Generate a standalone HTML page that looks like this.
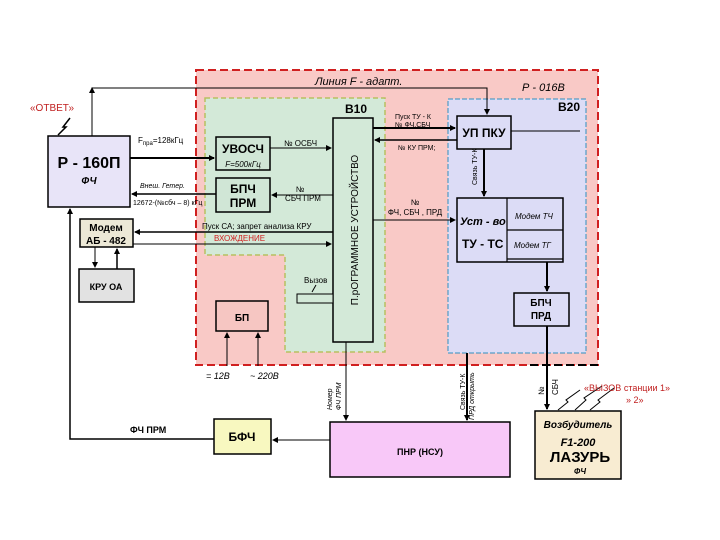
<!DOCTYPE html>
<html><head><meta charset="utf-8"><style>
html,body{margin:0;padding:0;background:#fff;}
svg{display:block;font-family:"Liberation Sans",sans-serif;}
</style></head><body>
<svg width="720" height="540" viewBox="0 0 720 540" xmlns="http://www.w3.org/2000/svg">
<defs>
<marker id="a" markerWidth="6" markerHeight="6" refX="5" refY="3" orient="auto" markerUnits="userSpaceOnUse"><path d="M0,0 L6,3 L0,6 z" fill="#000"/></marker>
</defs>
<!-- regions -->
<rect x="196" y="70" width="402" height="295" fill="#f9c9c6" stroke="#d02020" stroke-width="2" stroke-dasharray="8,4"/>
<path d="M205,98 H385 V352 H285 V255 H205 Z" fill="#d3e9d8" stroke="#b8c060" stroke-width="1.5" stroke-dasharray="5,3"/>
<rect x="448" y="99" width="138" height="254" fill="#dcdcf6" stroke="#3090c0" stroke-width="1" stroke-dasharray="5,2"/>
<path d="M530,365 H598" stroke="#000" stroke-width="2" stroke-dasharray="8,4"/>
<text x="315" y="85" font-size="11" font-style="italic">Линия F - адапт.</text>
<text x="522" y="91" font-size="11" font-style="italic">Р - 016В</text>
<text x="345" y="113" font-size="12" font-weight="bold">В10</text>
<text x="558" y="111" font-size="12" font-weight="bold">В20</text>
<!-- top line -->
<path d="M92,136 V88 H487 V114" fill="none" stroke="#000" stroke-width="1" marker-end="url(#a)"/>
<path d="M92,96 L92,88" stroke="#000" marker-end="url(#a)"/>
<!-- R-160P -->
<rect x="48" y="136" width="82" height="71" fill="#e8e4f8" stroke="#000" stroke-width="1.5"/>
<text x="89" y="168" font-size="16" font-weight="bold" text-anchor="middle">Р - 160П</text>
<text x="89" y="184" font-size="10" font-weight="bold" font-style="italic" text-anchor="middle">ФЧ</text>
<text x="30" y="111" font-size="10" fill="#c02020">«ОТВЕТ»</text>
<path d="M70,118 L63,127 L66,127 L58,135" fill="none" stroke="#000" stroke-width="1.5"/>
<!-- UVOSCH -->
<rect x="216" y="137" width="54" height="33" fill="#d0e6d6" stroke="#000" stroke-width="1.5"/>
<text x="243" y="153" font-size="12" font-weight="bold" text-anchor="middle">УВОСЧ</text>
<text x="243" y="167" font-size="8" font-style="italic" text-anchor="middle">F=500кГц</text>
<path d="M130,158 H214" stroke="#000" stroke-width="2" marker-end="url(#a)"/>
<text x="138" y="143" font-size="8">F<tspan font-size="6" dy="2">пра</tspan><tspan dy="-2">=128кГц</tspan></text>
<path d="M270,148 H331" stroke="#000" marker-end="url(#a)"/>
<text x="284" y="146" font-size="8">№ ОСБЧ</text>
<!-- BPCH PRM -->
<rect x="216" y="178" width="54" height="34" fill="#d0e6d6" stroke="#000" stroke-width="1.5"/>
<text x="243" y="193" font-size="12" font-weight="bold" text-anchor="middle">БПЧ</text>
<text x="243" y="207" font-size="12" font-weight="bold" text-anchor="middle">ПРМ</text>
<path d="M333,195 H272" stroke="#000" marker-end="url(#a)"/>
<text x="300" y="192" font-size="8" text-anchor="middle">№</text>
<text x="303" y="201" font-size="8" text-anchor="middle">СБЧ ПРМ</text>
<path d="M216,194 H132" stroke="#000" stroke-width="1.5" marker-end="url(#a)"/>
<text x="140" y="188" font-size="7" font-style="italic">Внеш. Гетер.</text>
<text x="133" y="205" font-size="7">12672-(№сбч – 8) кГц</text>
<!-- modem -->
<rect x="80" y="219" width="53" height="28" fill="#ece8d6" stroke="#000" stroke-width="1.5"/>
<text x="106" y="231" font-size="10" font-weight="bold" text-anchor="middle">Модем</text>
<text x="106" y="244" font-size="10" font-weight="bold" text-anchor="middle">АБ - 482</text>
<path d="M333,232 H135" stroke="#000" stroke-width="1.5" marker-end="url(#a)"/>
<text x="202" y="229" font-size="8">Пуск СА; запрет анализа КРУ</text>
<text x="214" y="241" font-size="8" fill="#d02020">ВХОЖДЕНИЕ</text>
<path d="M133,244 H331" stroke="#000" marker-end="url(#a)"/>
<!-- KRU -->
<rect x="79" y="269" width="55" height="33" fill="#e2e2e2" stroke="#000" stroke-width="1.5"/>
<text x="106" y="290" font-size="9" font-weight="bold" text-anchor="middle">КРУ ОА</text>
<path d="M95,247 V267" stroke="#000" marker-end="url(#a)"/>
<path d="M117,269 V249" stroke="#000" stroke-width="1.5" marker-end="url(#a)"/>
<!-- left feedback -->
<path d="M214,439 H70 V209" fill="none" stroke="#000" stroke-width="1.5" marker-end="url(#a)"/>
<text x="130" y="433" font-size="9" font-weight="bold">ФЧ ПРМ</text>
<!-- program device -->
<rect x="333" y="118" width="40" height="224" fill="#d3e9d8" stroke="#000" stroke-width="1.5"/>
<text transform="translate(358,230) rotate(-90)" font-size="10" text-anchor="middle">П.рОГРАММНОЕ УСТРОЙСТВО</text>
<path d="M297,294 H333 V303 H297 Z" fill="#d3e9d8" stroke="#000"/>
<text x="304" y="283" font-size="8">Вызов</text>
<path d="M316,285 L312,292" stroke="#000"/>
<!-- BP -->
<rect x="216" y="301" width="52" height="30" fill="#f6c6c2" stroke="#000" stroke-width="1.5"/>
<text x="242" y="321" font-size="10" font-weight="bold" text-anchor="middle">БП</text>
<path d="M227,366 V333" stroke="#000" marker-end="url(#a)"/>
<path d="M258,366 V333" stroke="#000" marker-end="url(#a)"/>
<text x="206" y="379" font-size="9" font-style="italic">= 12В</text>
<text x="250" y="379" font-size="9" font-style="italic">~ 220В</text>
<!-- numeric line to PNR -->
<path d="M346,342 V420" stroke="#000" marker-end="url(#a)"/>
<text transform="translate(332,410) rotate(-90)" font-size="7" font-style="italic">Номер</text>
<text transform="translate(341,410) rotate(-90)" font-size="7" font-style="italic">ФЧ ПРМ</text>
<!-- UP PKU -->
<rect x="457" y="116" width="54" height="33" fill="#dcdcf6" stroke="#000" stroke-width="1.5"/>
<text x="484" y="137" font-size="12" font-weight="bold" text-anchor="middle">УП ПКУ</text>
<path d="M511,131 H580" stroke="#000"/>
<path d="M373,128 H455" stroke="#000" stroke-width="2" marker-end="url(#a)"/>
<text x="395" y="119" font-size="7">Пуск ТУ - К</text>
<text x="395" y="127" font-size="7">№ ФЧ,СБЧ</text>
<path d="M457,140 H375" stroke="#000" stroke-width="1.5" marker-end="url(#a)"/>
<text x="398" y="150" font-size="7">№ КУ ПРМ;</text>
<path d="M484,149 V196" stroke="#000" stroke-width="2" marker-end="url(#a)"/>
<text transform="translate(477,185) rotate(-90)" font-size="7">Связь ТУ-К</text>
<!-- ust-vo -->
<rect x="457" y="198" width="106" height="64" fill="#dcdcf6" stroke="#000" stroke-width="1.5"/>
<path d="M507,198 V262 M507,230 H563 M507,259 H563" stroke="#000" stroke-width="1.2"/>
<text x="460" y="225" font-size="11" font-weight="bold" font-style="italic">Уст - во</text>
<text x="462" y="248" font-size="12" font-weight="bold">ТУ - ТС</text>
<text x="515" y="219" font-size="8" font-style="italic">Модем ТЧ</text>
<text x="514" y="248" font-size="8" font-style="italic">Модем ТГ</text>
<path d="M373,220 H455" stroke="#000" marker-end="url(#a)"/>
<text x="415" y="205" font-size="8" text-anchor="middle">№</text>
<text x="415" y="215" font-size="8" text-anchor="middle">ФЧ, СБЧ , ПРД</text>
<path d="M547,262 V291" stroke="#000" stroke-width="2" marker-end="url(#a)"/>
<!-- BPCH PRD -->
<rect x="514" y="293" width="55" height="33" fill="#dcdcf6" stroke="#000" stroke-width="1.5"/>
<text x="541" y="306" font-size="10" font-weight="bold" text-anchor="middle">БПЧ</text>
<text x="541" y="319" font-size="10" font-weight="bold" text-anchor="middle">ПРД</text>
<path d="M547,326 V409" stroke="#000" stroke-width="2" marker-end="url(#a)"/>
<text transform="translate(544,395) rotate(-90)" font-size="8">№</text>
<text transform="translate(558,395) rotate(-90)" font-size="8">СБЧ</text>
<!-- svyaz to PNR -->
<path d="M467,353 V420" stroke="#000" stroke-width="2" marker-end="url(#a)"/>
<text transform="translate(465,410) rotate(-90)" font-size="7">Связь ТУ-К</text>
<text transform="translate(474,420) rotate(-90)" font-size="7" font-style="italic">ПРД открыть</text>
<!-- PNR -->
<rect x="330" y="422" width="180" height="55" fill="#f8c8f8" stroke="#000" stroke-width="1.5"/>
<text x="420" y="455" font-size="9" font-weight="bold" text-anchor="middle">ПНР (НСУ)</text>
<path d="M330,440 H273" stroke="#000" marker-end="url(#a)"/>
<!-- BFCH -->
<rect x="214" y="419" width="57" height="35" fill="#f8f8c0" stroke="#000" stroke-width="1.5"/>
<text x="242" y="441" font-size="12" font-weight="bold" text-anchor="middle">БФЧ</text>
<!-- exciter -->
<rect x="535" y="411" width="86" height="68" fill="#f8ecd2" stroke="#000" stroke-width="1.5"/>
<text x="578" y="428" font-size="10" font-weight="bold" font-style="italic" text-anchor="middle">Возбудитель</text>
<text x="578" y="446" font-size="11" font-weight="bold" font-style="italic" text-anchor="middle">F1-200</text>
<text x="580" y="462" font-size="15" font-weight="bold" text-anchor="middle">ЛАЗУРЬ</text>
<text x="580" y="474" font-size="8" font-weight="bold" font-style="italic" text-anchor="middle">ФЧ</text>
<path d="M558,410 L568,402 L566,400 L580,390 M575,410 L586,400 L584,398 L602,386 M590,410 L600,402 L598,400 L614,388" fill="none" stroke="#000" stroke-width="1"/>
<text x="584" y="391" font-size="9" fill="#c02020">«ВЫЗОВ станции 1»</text>
<text x="626" y="403" font-size="9" fill="#c02020">»   2»</text>
</svg>
</body></html>
